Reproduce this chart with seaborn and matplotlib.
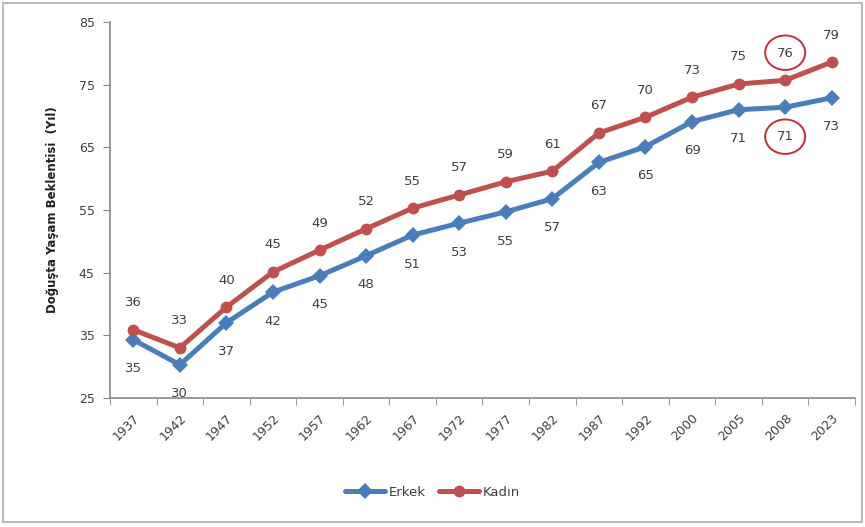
import matplotlib
matplotlib.use('Agg')
import matplotlib.pyplot as plt
import seaborn as sns
import pandas as pd
from matplotlib.patches import Ellipse, Rectangle

# data
years = ['1937', '1942', '1947', '1952', '1957', '1962', '1967', '1972',
         '1977', '1982', '1987', '1992', '2000', '2005', '2008', '2023']
erkek = [34.3, 30.3, 37.0, 41.9, 44.5, 47.7, 51.0, 52.9,
         54.7, 56.8, 62.6, 65.1, 69.1, 71.0, 71.4, 72.9]
kadin = [35.9, 33.0, 39.5, 45.1, 48.6, 52.0, 55.3, 57.4,
         59.5, 61.2, 67.3, 69.8, 73.0, 75.1, 75.7, 78.6]
erkek_labels = [35, 30, 37, 42, 45, 48, 51, 53, 55, 57, 63, 65, 69, 71, 71, 73]
kadin_labels = [36, 33, 40, 45, 49, 52, 55, 57, 59, 61, 67, 70, 73, 75, 76, 79]

blue = '#4A7EBB'
red = '#C0504D'
txt = '#404040'

df = pd.DataFrame({
    'Yıl': years * 2,
    'Değer': erkek + kadin,
    'Cinsiyet': ['Erkek'] * len(years) + ['Kadın'] * len(years),
})

sns.set_style('white')
plt.rcParams['font.family'] = ['DejaVu Sans']

fig = plt.figure(figsize=(8.65, 5.27), dpi=100)
ax = fig.add_axes([110 / 865, 1 - 398 / 527, (855 - 110) / 865, (398 - 22) / 527])

sns.lineplot(data=df, x='Yıl', y='Değer', hue='Cinsiyet', style='Cinsiyet',
             palette={'Erkek': blue, 'Kadın': red},
             markers={'Erkek': 'D', 'Kadın': 'o'}, dashes=False,
             markersize=8.5, markeredgewidth=0, linewidth=3.6, ax=ax, legend=True)

# data labels: women above, men below
for i, v in enumerate(kadin):
    ax.annotate(str(kadin_labels[i]), (i, v), xytext=(0, 19.5), textcoords='offset points',
                ha='center', va='center', fontsize=9.5, color=txt)
for i, v in enumerate(erkek):
    ax.annotate(str(erkek_labels[i]), (i, v), xytext=(0, -21), textcoords='offset points',
                ha='center', va='center', fontsize=9.5, color=txt)

# highlight circles around the 2008 labels
i08 = years.index('2008')
ax.add_patch(Ellipse((i08, 80.1), 0.86, 5.5, fill=False, edgecolor='#C0303A', lw=1.4, clip_on=False))
ax.add_patch(Ellipse((i08, 66.7), 0.86, 5.5, fill=False, edgecolor='#C0303A', lw=1.4, clip_on=False))

ax.set_xlim(-0.5, len(years) - 0.5)
ax.set_ylim(25, 85)
ax.set_yticks(range(25, 86, 10))
ax.set_xticks(range(len(years)))
ax.set_xticklabels(years, rotation=45, ha='right', rotation_mode='anchor')
ax.set_xticks([x - 0.5 for x in range(len(years) + 1)], minor=True)
ax.tick_params(axis='x', which='major', length=0, pad=10, labelsize=9, labelcolor=txt)
ax.tick_params(axis='x', which='minor', length=5, color='#888888', direction='out', bottom=True)
ax.tick_params(axis='y', length=5, color='#888888', direction='out', left=True,
               labelsize=9, labelcolor=txt, pad=6)

ax.set_xlabel('')
ax.set_ylabel('Doğuşta Yaşam Beklentisi  (Yıl)', fontsize=8.5, fontweight='bold',
              color='#202020', labelpad=14)

sns.despine(ax=ax)
for s in ['left', 'bottom']:
    ax.spines[s].set_color('#888888')
    ax.spines[s].set_linewidth(1.2)

handles, labels = ax.get_legend_handles_labels()
ax.get_legend().remove()
fig.legend(handles, labels, loc='center', bbox_to_anchor=(0.5, 1 - 492 / 527), ncol=2,
           frameon=False, fontsize=9.5, handlelength=3, columnspacing=1.0,
           handletextpad=0.3, labelcolor=txt)

# outer frame like the original picture
fig.patches.append(Rectangle((0.004, 0.01), 0.992, 0.985, transform=fig.transFigure,
                             fill=False, edgecolor='#BBBBBB', lw=1.5))

fig.savefig('out.png', dpi=100, facecolor='white')
